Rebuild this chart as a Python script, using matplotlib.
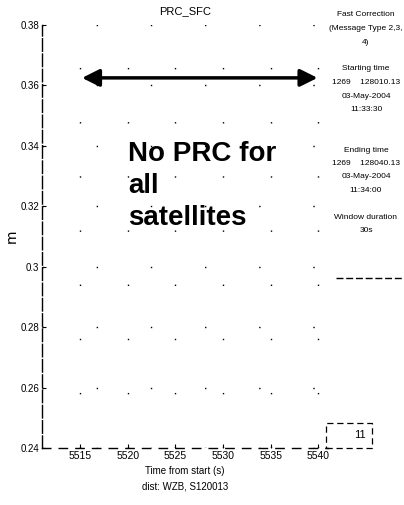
import matplotlib
matplotlib.use("Agg")
import matplotlib.pyplot as plt
from matplotlib.patches import Rectangle
from matplotlib.lines import Line2D

# data / labels
x_ticks = [5515, 5520, 5525, 5530, 5535, 5540]
y_ticks = [0.24, 0.26, 0.28, 0.30, 0.32, 0.34, 0.36, 0.38]
y_tick_labels = ["0.24", "0.26", "0.28", "0.3", "0.32", "0.34", "0.36", "0.38"]
x_range = (5511, 5541)
y_range = (0.24, 0.38)
window = (5515.2, 5539.9)     # arrow over the time window
arrow_level = 0.3625
prn_list = ["11"]

info_lines = [
    "Fast Correction", "(Message Type 2,3,", "4)", "",
    "Starting time", "1269    128010.13", "03-May-2004", "11:33:30", "", "",
    "Ending time", "1269    128040.13", "03-May-2004", "11:34:00", "",
    "Window duration", "30s",
]

fnt = "Liberation Sans"
W, H = 404, 505

fig = plt.figure(figsize=(W / 100, H / 100), dpi=100)
ax = fig.add_axes([42 / W, (H - 448) / H, 286 / W, 423 / H])
ax.set_xlim(*x_range)
ax.set_ylim(*y_range)

ax.set_xticks(x_ticks)
ax.set_xticklabels([str(t) for t in x_ticks], family=fnt, fontsize=7.5)
ax.set_yticks(y_ticks)
ax.set_yticklabels(y_tick_labels, family=fnt, fontsize=7)
ax.tick_params(direction="in", length=3, width=0.8, pad=2)

ax.grid(True, color="black", linestyle=(0, (1, 38)), linewidth=1.0)
for s in ["top", "right"]:
    ax.spines[s].set_visible(False)
ax.spines["left"].set_linestyle((0, (9, 2)))
ax.spines["bottom"].set_linestyle((0, (6, 6)))
ax.spines["left"].set_linewidth(1.0)
ax.spines["bottom"].set_linewidth(1.0)

ax.set_title("PRC_SFC", family=fnt, fontsize=8, pad=8)
ax.set_ylabel("m", fontsize=10, labelpad=1)
ax.set_xlabel("Time from start (s)\ndist: WZB, S120013", family=fnt,
              fontsize=7, labelpad=4, linespacing=1.7)

ax.annotate("", xy=(window[1], arrow_level), xytext=(window[0], arrow_level),
            arrowprops=dict(arrowstyle="<|-|>", color="black", lw=2.5,
                            mutation_scale=26, shrinkA=0, shrinkB=0))

ax.text(5520.0, 0.3415, "No PRC for\nall\nsatellites", fontsize=20,
        fontweight="bold", family=fnt, va="top", ha="left",
        linespacing=1.3)

# info panel on the right
y = 15
for line in info_lines:
    if line:
        fig.text(366 / W, 1 - y / H, line, ha="center", va="center",
                 family=fnt, fontsize=6)
    y = y + 13.5
fig.add_artist(Line2D([336 / W, 402 / W], [1 - 278 / H, 1 - 278 / H],
                      color="black", lw=1, linestyle=(0, (5, 2))))

# legend box
fig.add_artist(Rectangle((326 / W, (H - 448) / H), 46 / W, 25 / H,
                         fill=False, edgecolor="black", lw=0.9,
                         linestyle=(0, (5, 3))))
fig.text(360 / W, 1 - 435 / H, prn_list[0], ha="center", va="center",
         family=fnt, fontsize=8)

fig.savefig("out.png", dpi=100)
